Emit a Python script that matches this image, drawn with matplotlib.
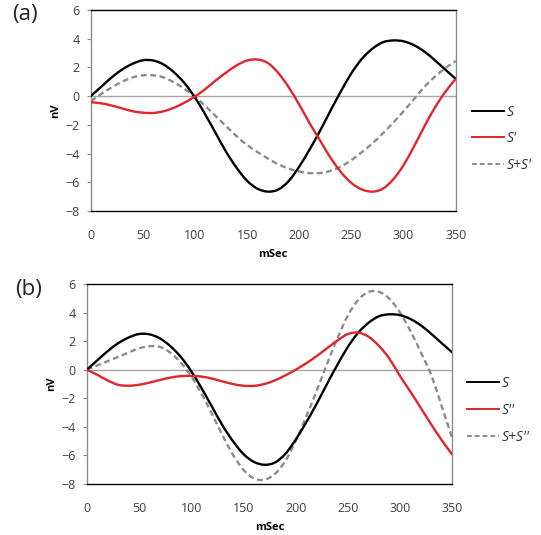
import numpy as np
import matplotlib.pyplot as plt
from matplotlib.path import Path
from matplotlib.patches import PathPatch

# time axis (ms)
t = np.arange(0, 351, 10)

# original signal S (same in both panels)
s = [0, 0.65, 1.3, 1.85, 2.25, 2.5, 2.48, 2.2, 1.65, 0.9,
     -0.1, -1.3, -2.6, -3.9, -5.0, -5.9, -6.45, -6.65, -6.5, -5.9,
     -4.9, -3.7, -2.4, -1.0, 0.35, 1.6, 2.6, 3.3, 3.75, 3.88,
     3.82, 3.55, 3.1, 2.5, 1.85, 1.2]

# panel (a)
s1 = [-0.42, -0.5, -0.65, -0.85, -1.05, -1.15, -1.17, -1.05, -0.8, -0.45,
      -0.02, 0.5, 1.1, 1.65, 2.15, 2.48, 2.55, 2.3, 1.6, 0.6,
      -0.6, -1.9, -3.1, -4.3, -5.3, -6.05, -6.5, -6.65, -6.45, -5.8,
      -4.8, -3.5, -2.1, -0.8, 0.3, 1.2]
sum1 = [-0.35, 0.15, 0.6, 1.0, 1.3, 1.45, 1.45, 1.3, 0.95, 0.5,
        -0.05, -0.7, -1.4, -2.1, -2.8, -3.4, -3.9, -4.35, -4.75, -5.05,
        -5.25, -5.36, -5.35, -5.2, -4.9, -4.45, -3.9, -3.3, -2.6, -1.85,
        -1.05, -0.2, 0.65, 1.35, 1.95, 2.45]

# panel (b)
s2 = [0, -0.35, -0.75, -1.05, -1.12, -1.05, -0.9, -0.72, -0.55, -0.45,
      -0.43, -0.48, -0.62, -0.82, -1.0, -1.12, -1.13, -1.0, -0.75, -0.4,
      0.0, 0.45, 0.95, 1.5, 2.05, 2.5, 2.6, 2.3, 1.65, 0.75,
      -0.45, -1.55, -2.7, -3.85, -4.95, -5.95]
sum2 = [0, 0.3, 0.6, 0.9, 1.2, 1.5, 1.65, 1.6, 1.2, 0.5,
        -0.45, -1.7, -3.1, -4.6, -5.95, -7.0, -7.6, -7.7, -7.3, -6.4,
        -5.0, -3.3, -1.5, 0.4, 2.2, 3.8, 4.9, 5.45, 5.45, 4.95,
        4.0, 2.7, 1.2, -0.4, -2.6, -4.8]

xticks = [0, 50, 100, 150, 200, 250, 300, 350]
yticks = [-8, -6, -4, -2, 0, 2, 4, 6]

plt.rcParams['font.family'] = ['Open Sans', 'DejaVu Sans']

fig = plt.figure(figsize=(5.41, 5.35), dpi=100)

RED = '#e0262a'
GREY = '#8c8c8c'


def smooth_path(x, y):
    # Excel-style smoothed line: cubic Bezier segments through the points
    p = np.column_stack([x, y]).astype(float)
    n = len(p)
    verts = [p[0]]
    codes = [Path.MOVETO]
    for i in range(n - 1):
        p0 = p[i - 1] if i > 0 else p[i]
        p3 = p[i + 2] if i + 2 < n else p[i + 1]
        c1 = p[i] + (p[i + 1] - p0) / 6
        c2 = p[i + 1] - (p3 - p[i]) / 6
        verts += [c1, c2, p[i + 1]]
        codes += [Path.CURVE4] * 3
    return Path(verts, codes)


def curve(ax, y, label, **kw):
    ax.add_patch(PathPatch(smooth_path(t, y), fill=False, **kw))
    ax.plot([], [], label=label, color=kw['edgecolor'],
            linestyle=kw.get('linestyle', '-'))


def panel(rect, y2, ysum, names, tag, tagpos, legpos):
    ax = fig.add_axes(rect)
    ax.axhline(0, color='#a6a6a6', lw=1.0, zorder=1)
    curve(ax, s, names[0], edgecolor='black', lw=1.7, zorder=3)
    curve(ax, y2, names[1], edgecolor=RED, lw=1.7, zorder=3)
    curve(ax, ysum, names[2], edgecolor=GREY, lw=1.7,
          linestyle=(0, (2.5, 1.5)), zorder=2)
    ax.set_xlim(0, 350)
    ax.set_ylim(-8, 6)
    ax.set_xticks(xticks)
    ax.set_yticks(yticks)
    ax.tick_params(axis='x', length=0, pad=13, labelsize=9, labelcolor='#404040')
    ax.tick_params(axis='y', length=3, width=0.8, color='#8c8c8c', pad=5,
                   labelsize=9, labelcolor='#404040')
    ax.spines['top'].set_color('black')
    ax.spines['bottom'].set_color('black')
    ax.spines['left'].set_color('#8c8c8c')
    ax.spines['right'].set_color('#8c8c8c')
    for sp in ax.spines.values():
        sp.set_linewidth(1.0)
    ax.set_ylabel('nV', fontsize=8, fontweight='bold', labelpad=3)
    ax.set_xlabel('mSec', fontsize=8, fontweight='bold', labelpad=5)
    fig.text(tagpos[0], tagpos[1], tag, fontsize=16, va='top', ha='left',
             color='#222222')
    leg = ax.legend(loc='upper left', bbox_to_anchor=legpos,
                    bbox_transform=fig.transFigure, frameon=False,
                    handlelength=2.3, handletextpad=0.2, labelspacing=0.85,
                    prop={'style': 'italic', 'size': 10})
    for line in leg.get_lines():
        line.set_linewidth(1.4)
    for txt in leg.get_texts():
        txt.set_color('#333333')
    return ax


panel([0.1677, 0.6056, 0.6747, 0.3757], s1, sum1,
      ['S', "S'", "S+S'"], '(a)', (0.022, 0.993), (0.849, 0.828))
panel([0.1603, 0.0953, 0.6758, 0.3738], s2, sum2,
      ['S', "S''", "S+S''"], '(b)', (0.028, 0.478), (0.84, 0.32))

fig.savefig('out.png', dpi=100)
